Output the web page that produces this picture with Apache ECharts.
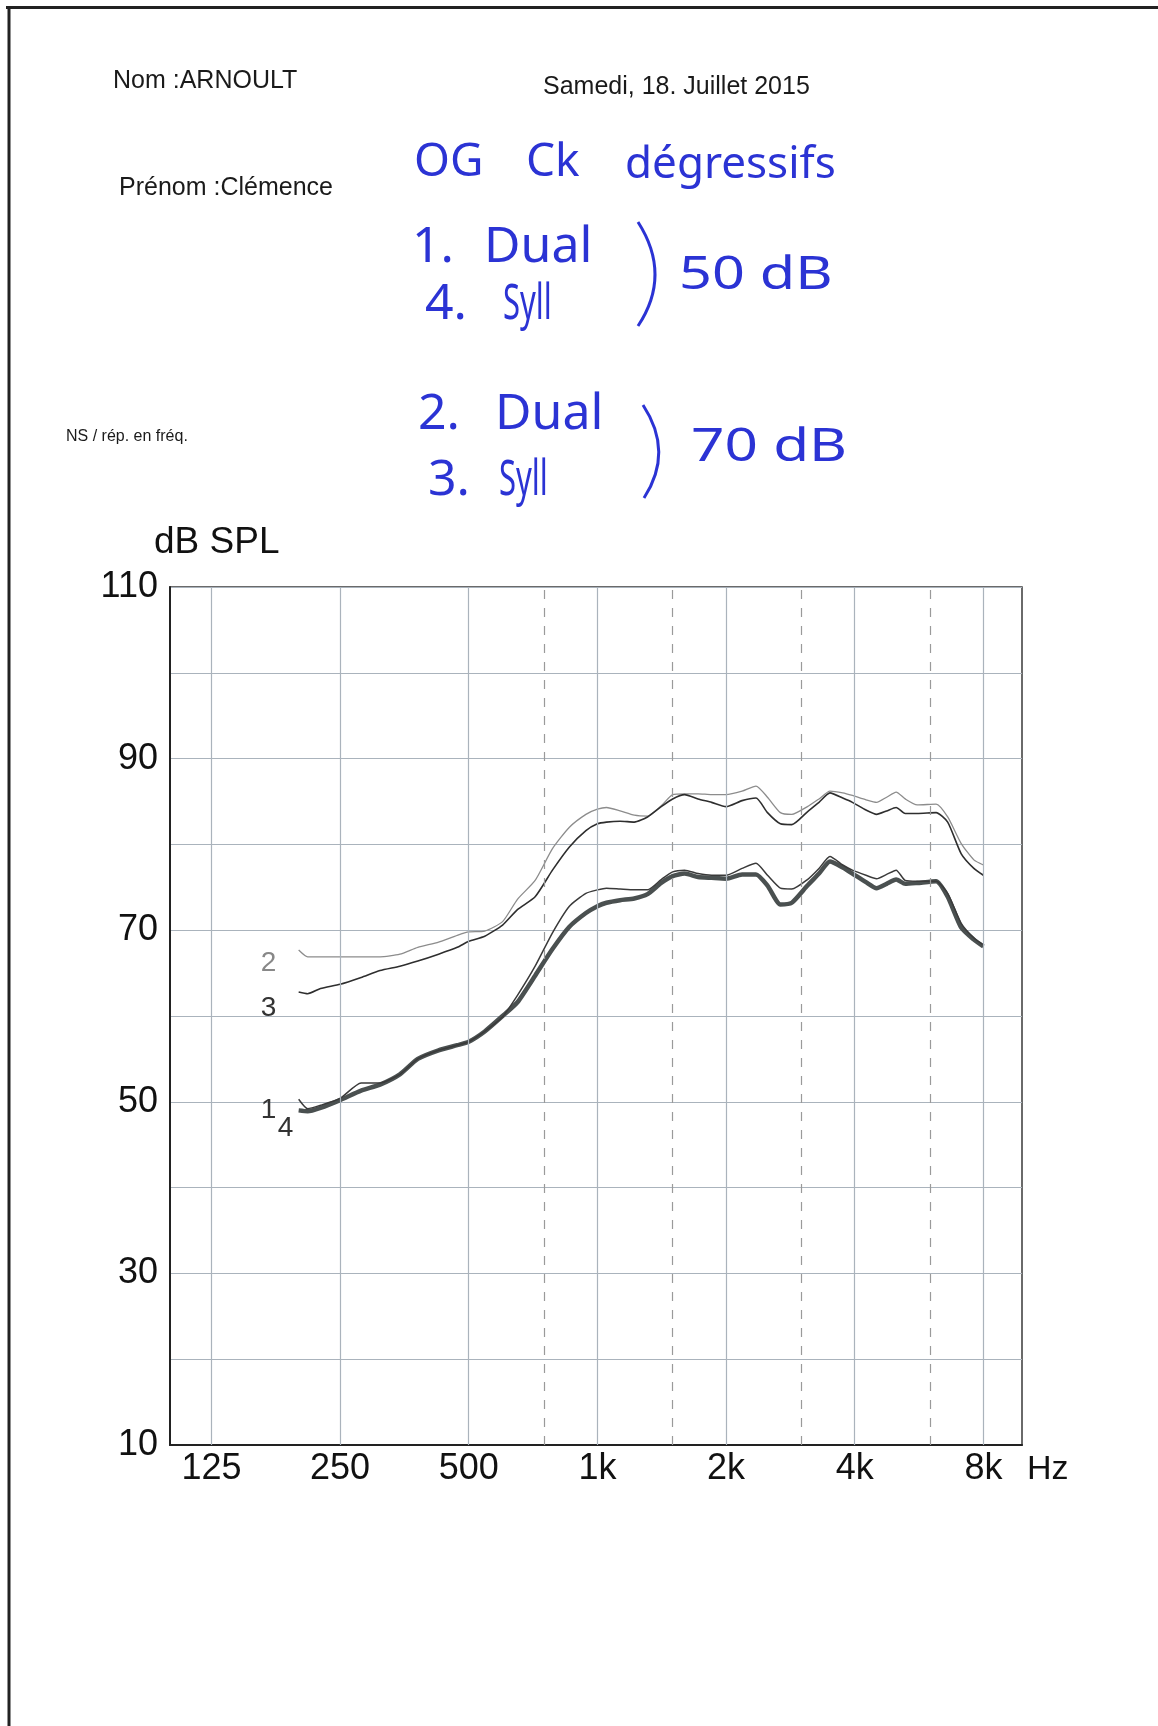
<!DOCTYPE html>
<html>
<head>
<meta charset="utf-8">
<script src="https://cdn.jsdelivr.net/npm/echarts@6/dist/echarts.min.js"></script>
<style>
  html, body { margin: 0; padding: 0; background: #fff; }
  #chart { width: 1158px; height: 1726px; }
</style>
</head>
<body>
<div id="chart"></div>
<script>
// frequencies (Hz) shared by all four response curves
const freqs = [200, 210, 225, 250, 280, 310, 345, 380, 425, 470,
  500, 545, 600, 650, 715, 785, 860, 940, 1000, 1050,
  1130, 1220, 1310, 1410, 1500, 1600, 1720, 1850, 2000, 2180,
  2350, 2500, 2680, 2850, 3100, 3300, 3500, 3750, 3950, 4250,
  4500, 4750, 5000, 5250, 5600, 6200, 6600, 7100, 7600, 8000];

// 1. Dual 50 dB
const dual50 = [50.3, 49.2, 49.6, 50.4, 52.2, 52.2, 53.2, 55.0, 56.0, 56.6,
  57.0, 58.2, 59.9, 62.4, 65.8, 69.7, 72.8, 74.3, 74.7, 74.9,
  74.8, 74.7, 74.7, 75.9, 76.8, 77.0, 76.6, 76.4, 76.4, 77.2,
  77.8, 76.4, 74.9, 74.8, 75.9, 77.2, 78.6, 77.6, 77.0, 76.4,
  76.0, 76.5, 77.0, 75.8, 75.7, 75.7, 74.3, 70.8, 69.1, 68.3];

// 2. Dual 70 dB
const dual70 = [67.7, 66.9, 66.9, 66.9, 66.9, 66.9, 67.2, 68.0, 68.6, 69.4,
  69.8, 69.9, 71.0, 73.6, 75.8, 79.5, 82.0, 83.5, 84.1, 84.3,
  83.9, 83.4, 83.3, 84.5, 85.8, 85.9, 85.9, 85.8, 85.8, 86.2,
  86.8, 85.5, 83.7, 83.5, 84.4, 85.3, 86.2, 86.0, 85.7, 85.2,
  84.9, 85.5, 86.1, 85.3, 84.6, 84.7, 83.2, 80.1, 78.2, 77.6];

// 3. Syll 70 dB
const syll70 = [62.8, 62.6, 63.2, 63.7, 64.5, 65.3, 65.8, 66.4, 67.2, 68.0,
  68.7, 69.3, 70.6, 72.4, 73.9, 77.0, 79.7, 81.6, 82.4, 82.6,
  82.7, 82.6, 83.2, 84.4, 85.3, 85.8, 85.3, 84.9, 84.4, 85.1,
  85.4, 83.7, 82.4, 82.3, 83.8, 84.9, 86.0, 85.4, 84.9, 84.0,
  83.5, 83.9, 84.3, 83.6, 83.6, 83.7, 82.6, 78.9, 77.2, 76.4];

// 4. Syll 50 dB
const syll50 = [49.0, 48.9, 49.3, 50.2, 51.3, 52.0, 53.2, 55.0, 56.0, 56.6,
  57.0, 58.2, 60.0, 61.6, 64.7, 67.8, 70.4, 72.0, 72.8, 73.2,
  73.5, 73.7, 74.2, 75.5, 76.3, 76.6, 76.2, 76.1, 76.0, 76.5,
  76.5, 75.2, 73.0, 73.2, 75.2, 76.6, 78.0, 77.3, 76.6, 75.6,
  74.9, 75.4, 75.9, 75.4, 75.5, 75.7, 73.9, 70.3, 68.9, 68.1];

// axis ticks
const xTickFreqs = [125, 250, 500, 1000, 2000, 4000, 8000];
const xTickLabels = ['125', '250', '500', '1k', '2k', '4k', '8k'];
const xDashFreqs = [750, 1500, 3000, 6000];
const yTickLabels = [10, 30, 50, 70, 90, 110];

const FONT = '"Liberation Sans", Arial, sans-serif';
const HAND = '"Noto Sans", sans-serif';
const BLUE = '#2b33d4';
const GRIDC = '#aab3bc';

const pairs = arr => freqs.map((f, i) => [f, arr[i]]);

function curveLabel(text, arr, offset, color) {
  return {
    symbol: 'circle', symbolSize: 1, silent: true,
    itemStyle: { color: 'rgba(0,0,0,0)' },
    data: [{
      coord: [freqs[0], arr[0]],
      label: { show: true, formatter: text, offset: offset, color: color,
        fontSize: 28, fontFamily: FONT }
    }]
  };
}

// handwritten note: x = left edge, y = vertical middle
function hand(text, x, y, size, sx) {
  return { type: 'text', x: x, y: y, scaleX: sx || 1, silent: true,
    style: { text: text, fill: BLUE, font: size + 'px ' + HAND,
      align: 'left', verticalAlign: 'middle' } };
}

const chart = echarts.init(document.getElementById('chart'));

const option = {
  animation: false,
  backgroundColor: '#ffffff',
  grid: { left: 170, top: 587, width: 852, height: 858, show: true,
    borderColor: '#3a3a3a', borderWidth: 1.5, backgroundColor: 'transparent' },
  xAxis: {
    type: 'log', logBase: 10, min: 100, max: 9850,
    axisLine: { show: true, onZero: false, lineStyle: { color: '#222', width: 2 } },
    axisTick: { show: false }, axisLabel: { show: false },
    splitLine: { show: false }, minorSplitLine: { show: false }
  },
  yAxis: {
    type: 'value', min: 10, max: 110, interval: 10,
    axisLine: { show: true, lineStyle: { color: '#222', width: 2 } },
    axisTick: { show: false },
    axisLabel: { fontSize: 36, color: '#111', fontFamily: FONT, margin: 12,
      formatter: v => yTickLabels.includes(v) ? String(v) : '' },
    splitLine: { show: true, lineStyle: { color: GRIDC, width: 1.2 } }
  },
  series: [
    {
      // vertical frequency grid + x labels
      type: 'line', data: [], z: 1, silent: true,
      markLine: {
        silent: true, symbol: ['none', 'none'], animation: false,
        label: { position: 'start', distance: 6, fontSize: 36, color: '#111', fontFamily: FONT },
        data: xTickFreqs.map((f, i) => ({ xAxis: f,
          label: { show: true, formatter: xTickLabels[i] },
          lineStyle: { type: 'solid', color: GRIDC, width: 1.2 } }))
          .concat(xDashFreqs.map(f => ({ xAxis: f, label: { show: false },
            lineStyle: { type: [9, 9], color: '#9a9a9a', width: 1.2 } })))
      }
    },
    { name: '2', type: 'line', z: 3, data: pairs(dual70), symbol: 'none', smooth: 0.2,
      lineStyle: { color: '#8c8c8c', width: 1.3 },
      markPoint: curveLabel('2', dual70, [-30, 13], '#888') },
    { name: '3', type: 'line', z: 3, data: pairs(syll70), symbol: 'none', smooth: 0.2,
      lineStyle: { color: '#2e2e2e', width: 1.6 },
      markPoint: curveLabel('3', syll70, [-30, 16], '#333') },
    { name: '4', type: 'line', z: 3, data: pairs(syll50), symbol: 'none', smooth: 0.2,
      lineStyle: { color: '#4a5050', width: 4.5 },
      markPoint: curveLabel('4', syll50, [-13, 18], '#333') },
    { name: '1', type: 'line', z: 4, data: pairs(dual50), symbol: 'none', smooth: 0.2,
      lineStyle: { color: '#3a3a3a', width: 1.5 },
      markPoint: curveLabel('1', dual50, [-30, 11], '#333') }
  ],
  graphic: [
    // page edge from the scan
    { type: 'line', silent: true, shape: { x1: 6, y1: 7.5, x2: 1158, y2: 7.5 }, style: { stroke: '#222', lineWidth: 3 } },
    { type: 'line', silent: true, shape: { x1: 9, y1: 6, x2: 9, y2: 1726 }, style: { stroke: '#222', lineWidth: 3 } },
    // printed header
    { type: 'text', left: 113, top: 69, style: { text: 'Nom :ARNOULT', fill: '#1a1a1a', font: '25px ' + FONT } },
    { type: 'text', left: 543, top: 75, style: { text: 'Samedi, 18. Juillet 2015', fill: '#1a1a1a', font: '25px ' + FONT } },
    { type: 'text', left: 119, top: 176, style: { text: 'Prénom :Clémence', fill: '#1a1a1a', font: '25px ' + FONT } },
    { type: 'text', left: 66, top: 429, style: { text: 'NS / rép. en fréq.', fill: '#1a1a1a', font: '16px ' + FONT } },
    // axis titles
    { type: 'text', left: 154, top: 524, style: { text: 'dB SPL', fill: '#111', font: '37px ' + FONT } },
    { type: 'text', left: 1027, top: 1453, style: { text: 'Hz', fill: '#111', font: '34px ' + FONT } },
    // handwritten notes
    hand('OG', 414, 163, 46),
    hand('Ck', 526, 163, 46),
    hand('dégressifs', 625, 165, 44),
    hand('1.', 412, 248, 50),
    hand('Dual', 484, 248, 50),
    hand('4.', 425, 305, 50),
    hand('Syll', 503, 305, 50, 0.62),
    hand('50 dB', 679, 276, 45, 1.28),
    hand('2.', 418, 415, 50),
    hand('Dual', 495, 415, 50),
    hand('3.', 428, 481, 50),
    hand('Syll', 499, 481, 50, 0.62),
    hand('70 dB', 691, 448, 45, 1.3),
    { type: 'bezierCurve', silent: true, shape: { x1: 638, y1: 222, cpx1: 672, cpy1: 275, x2: 638, y2: 326 },
      style: { stroke: BLUE, lineWidth: 3, fill: null } },
    { type: 'bezierCurve', silent: true, shape: { x1: 643, y1: 405, cpx1: 674, cpy1: 452, x2: 644, y2: 498 },
      style: { stroke: BLUE, lineWidth: 3, fill: null } }
  ]
};

chart.setOption(option);
</script>
</body>
</html>
